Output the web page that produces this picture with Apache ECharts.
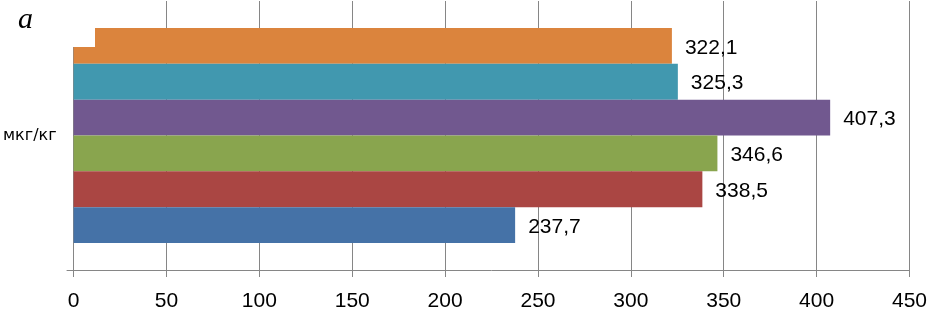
<!DOCTYPE html>
<html>
<head>
<meta charset="utf-8">
<script src="https://cdn.jsdelivr.net/npm/echarts@6/dist/echarts.min.js"></script>
<style>
html,body{margin:0;padding:0;background:#fff;}
#chart{width:930px;height:312px;}
</style>
</head>
<body>
<div id="chart"></div>
<script>
// categories and series listed bottom-to-top (as in the reference)
var categories = ['мкг/кг'];
var seriesNames = ['s1', 's2', 's3', 's4', 's5', 's6'];
var seriesValues = [237.7, 338.5, 346.6, 407.3, 325.3, 322.1];
var seriesColors = ['#4572A7', '#AA4643', '#89A54E', '#71588F', '#4198AF', '#DB843D'];
var xTicks = [0, 50, 100, 150, 200, 250, 300, 350, 400, 450];

var labelFont = '"Liberation Sans", Arial, sans-serif';
var chart = echarts.init(document.getElementById('chart'));
var series = [];
for (var i = seriesValues.length - 1; i >= 0; i--) {
  series.push({
    name: seriesNames[i],
    type: 'bar',
    data: [seriesValues[i]],
    barGap: '0%',
    barCategoryGap: '20%',
    itemStyle: { color: seriesColors[i] },
    label: {
      show: true,
      position: 'right',
      distance: 13,
      color: '#000',
      fontSize: 21,
      fontFamily: labelFont,
      offset: [0, 2],
      formatter: function (p) { return p.value.toFixed(1).replace('.', ','); }
    }
  });
}
chart.setOption({
  animation: false,
  grid: { left: 73, right: 17, top: 1, bottom: 40 },
  xAxis: {
    type: 'value',
    min: xTicks[0],
    max: xTicks[xTicks.length - 1],
    interval: 50,
    axisLine: { show: true, lineStyle: { color: '#868686', width: 1 } },
    axisTick: { show: true, length: 7, lineStyle: { color: '#868686' } },
    splitLine: { show: true, lineStyle: { color: '#868686', width: 1 } },
    axisLabel: { color: '#000', fontSize: 21, fontFamily: labelFont, margin: 21 }
  },
  yAxis: {
    type: 'category',
    data: categories,
    axisLine: { show: true, lineStyle: { color: '#868686', width: 1 } },
    axisTick: { show: true, length: 7, lineStyle: { color: '#868686' } },
    axisLabel: { color: '#000', fontSize: 16, fontFamily: '"DejaVu Sans", sans-serif', margin: 17 }
  },
  series: series,
  graphic: [
    { type: 'rect', shape: { x: 0, y: 0, width: 95, height: 47 }, style: { fill: '#fff' }, z: 100 },
    { type: 'text', left: 18, top: 5, z: 101, style: { text: 'а', fill: '#000', font: 'italic 30px "Liberation Serif", "Times New Roman", serif' } }
  ]
});
</script>
</body>
</html>
